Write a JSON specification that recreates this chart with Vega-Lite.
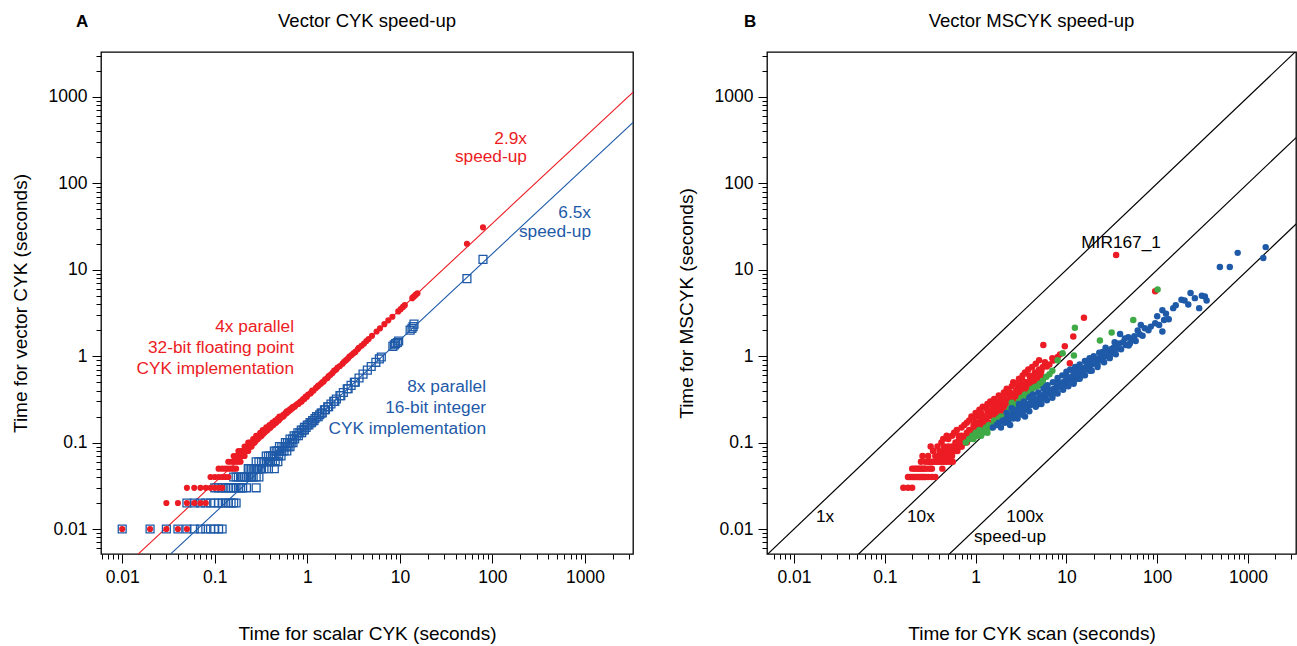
{
  "$schema": "https://vega.github.io/schema/vega-lite/v6.json",
  "background": "white",
  "padding": {"left": 10, "top": 10, "right": 0, "bottom": 4},
  "bounds": "flush",
  "spacing": 134,
  "config": {
    "font": "Liberation Sans",
    "view": {"stroke": "black", "strokeWidth": 1.3},
    "axis": {"domain": false, "grid": false, "tickColor": "black", "tickWidth": 1, "labelColor": "black", "labelFontSize": 17.5, "titleFontSize": 19, "titleFontWeight": "normal", "titleColor": "black", "labelOverlap": false, "labelFlush": false, "labelBound": false, "labelPadding": 5},
    "title": {"fontSize": 18.5, "fontWeight": "normal", "anchor": "middle", "color": "black", "offset": -17}
  },
  "datasets": {
    "aLines": [{"g":"f","x":0.001,"y":0.000345},{"g":"f","x":10000,"y":3448},{"g":"i","x":0.001,"y":0.000154},{"g":"i","x":10000,"y":1538}],
    "aText": [{"g":"f","t":"2.9x","x":236,"y":325},{"g":"f","t":"speed-up","x":236,"y":201},{"g":"i","t":"6.5x","x":1161,"y":45.2},{"g":"i","t":"speed-up","x":1161,"y":27.2},{"g":"f","t":"4x parallel","x":0.718,"y":2.166},{"g":"f","t":"32-bit floating point","x":0.718,"y":1.238},{"g":"f","t":"CYK implementation","x":0.718,"y":0.707},{"g":"i","t":"8x parallel","x":85.2,"y":0.438},{"g":"i","t":"16-bit integer","x":85.2,"y":0.25},{"g":"i","t":"CYK implementation","x":85.2,"y":0.143}],
    "aLabel": [{"t":"A","x":0.00368,"y":7345}],
    "bLabel": [{"t":"B","x":0.00328,"y":7345}],
    "aRed": [
      {"x":0.01,"y":0.01},{"x":0.02,"y":0.01},{"x":0.03,"y":0.01},{"x":0.04,"y":0.01},{"x":0.05,"y":0.01},
      {"x":0.03,"y":0.02},{"x":0.04,"y":0.02},{"x":0.05,"y":0.02},{"x":0.06,"y":0.02},{"x":0.07,"y":0.02},{"x":0.08,"y":0.02},
      {"x":0.05,"y":0.03},{"x":0.06,"y":0.03},{"x":0.07,"y":0.03},{"x":0.08,"y":0.03},{"x":0.09,"y":0.03},{"x":0.1,"y":0.03},{"x":0.11,"y":0.03},{"x":0.12,"y":0.03},
      {"x":0.09,"y":0.04},{"x":0.1,"y":0.04},{"x":0.11,"y":0.04},{"x":0.12,"y":0.04},{"x":0.13,"y":0.04},{"x":0.14,"y":0.04},
      {"x":0.11,"y":0.05},{"x":0.12,"y":0.05},{"x":0.13,"y":0.05},{"x":0.14,"y":0.05},{"x":0.15,"y":0.05},{"x":0.16,"y":0.05},{"x":0.17,"y":0.05},
      {"x":0.14,"y":0.06},{"x":0.15,"y":0.06},{"x":0.16,"y":0.06},{"x":0.17,"y":0.06},{"x":0.18,"y":0.06},{"x":0.19,"y":0.06},
      {"x":0.16,"y":0.07},{"x":0.17,"y":0.07},{"x":0.18,"y":0.07},{"x":0.19,"y":0.07},{"x":0.2,"y":0.07},{"x":0.21,"y":0.07},
      {"x":0.18,"y":0.08},{"x":0.19,"y":0.08},{"x":0.2,"y":0.08},{"x":0.21,"y":0.08},{"x":0.22,"y":0.08},{"x":0.23,"y":0.08},
      {"x":0.21,"y":0.09},{"x":0.22,"y":0.09},{"x":0.23,"y":0.09},{"x":0.24,"y":0.09},{"x":0.25,"y":0.09},
      {"x":0.23,"y":0.1},{"x":0.24,"y":0.1},{"x":0.25,"y":0.1},{"x":0.26,"y":0.1},{"x":0.27,"y":0.1},
      {"x":0.26,"y":0.11},{"x":0.27,"y":0.11},{"x":0.28,"y":0.11},{"x":0.29,"y":0.11},
      {"x":0.28,"y":0.12},{"x":0.29,"y":0.12},{"x":0.3,"y":0.12},{"x":0.31,"y":0.12},{"x":0.32,"y":0.12},
      {"x":0.31,"y":0.13},{"x":0.32,"y":0.13},{"x":0.33,"y":0.13},{"x":0.34,"y":0.13},
      {"x":0.33,"y":0.14},{"x":0.35,"y":0.14},{"x":0.36,"y":0.14},{"x":0.37,"y":0.14},
      {"x":0.36,"y":0.15},{"x":0.38,"y":0.15},{"x":0.4,"y":0.15},
      {"x":0.39,"y":0.16},{"x":0.41,"y":0.16},{"x":0.43,"y":0.16},
      {"x":0.42,"y":0.17},{"x":0.44,"y":0.17},{"x":0.46,"y":0.17},
      {"x":0.45,"y":0.18},{"x":0.47,"y":0.18},{"x":0.49,"y":0.18},
      {"x":0.48,"y":0.19},{"x":0.51,"y":0.19},
      {"x":0.5,"y":0.2},{"x":0.53,"y":0.2},{"x":0.55,"y":0.2},
      {"x":0.55,"y":0.21},{"x":0.57,"y":0.21},{"x":0.58,"y":0.22},{"x":0.6,"y":0.22},
      {"x":0.6,"y":0.23},{"x":0.63,"y":0.23},{"x":0.64,"y":0.24},{"x":0.66,"y":0.24},
      {"x":0.67,"y":0.25},{"x":0.69,"y":0.25},{"x":0.7,"y":0.26},{"x":0.73,"y":0.26},
      {"x":0.75,"y":0.27},{"x":0.78,"y":0.28},{"x":0.8,"y":0.28},{"x":0.82,"y":0.29},{"x":0.85,"y":0.3},{"x":0.87,"y":0.3},
      {"x":0.9,"y":0.32},{"x":0.93,"y":0.32},{"x":0.96,"y":0.34},{"x":0.99,"y":0.34},
      {"x":1.02,"y":0.36},{"x":1.08,"y":0.37},{"x":1.1,"y":0.38},{"x":1.13,"y":0.4},{"x":1.17,"y":0.4},
      {"x":1.24,"y":0.43},{"x":1.3,"y":0.45},{"x":1.33,"y":0.46},{"x":1.4,"y":0.48},{"x":1.45,"y":0.5},{"x":1.5,"y":0.51},
      {"x":1.56,"y":0.54},{"x":1.65,"y":0.56},{"x":1.7,"y":0.59},{"x":1.78,"y":0.61},{"x":1.87,"y":0.64},
      {"x":1.95,"y":0.68},{"x":2.05,"y":0.7},{"x":2.12,"y":0.74},{"x":2.25,"y":0.77},{"x":2.4,"y":0.82},{"x":2.5,"y":0.86},
      {"x":2.62,"y":0.9},{"x":2.75,"y":0.94},{"x":2.85,"y":0.99},{"x":3.0,"y":1.03},{"x":3.15,"y":1.08},
      {"x":3.3,"y":1.12},{"x":3.5,"y":1.2},{"x":3.6,"y":1.25},{"x":3.85,"y":1.32},{"x":4.1,"y":1.4},
      {"x":4.35,"y":1.5},{"x":4.6,"y":1.58},{"x":5.0,"y":1.72},{"x":5.6,"y":1.93},{"x":6.1,"y":2.1},{"x":6.8,"y":2.35},
      {"x":7.5,"y":2.6},{"x":8.3,"y":2.86},{"x":9.6,"y":3.3},{"x":10.2,"y":3.5},{"x":10.8,"y":3.72},{"x":11.3,"y":3.9},
      {"x":13.6,"y":4.7},{"x":14.0,"y":4.85},{"x":14.6,"y":5.05},{"x":15.0,"y":5.2},{"x":15.5,"y":5.35},
      {"x":53,"y":20},{"x":79,"y":31}
    ],
    "aBlue": [
      {"x":0.01,"y":0.01},{"x":0.02,"y":0.01},{"x":0.03,"y":0.01},{"x":0.04,"y":0.01},{"x":0.05,"y":0.01},{"x":0.06,"y":0.01},{"x":0.07,"y":0.01},{"x":0.08,"y":0.01},{"x":0.09,"y":0.01},{"x":0.1,"y":0.01},{"x":0.11,"y":0.01},{"x":0.12,"y":0.01},
      {"x":0.05,"y":0.02},{"x":0.06,"y":0.02},{"x":0.07,"y":0.02},{"x":0.08,"y":0.02},{"x":0.09,"y":0.02},{"x":0.1,"y":0.02},{"x":0.11,"y":0.02},{"x":0.12,"y":0.02},{"x":0.13,"y":0.02},{"x":0.14,"y":0.02},{"x":0.15,"y":0.02},{"x":0.16,"y":0.02},{"x":0.17,"y":0.02},
      {"x":0.1,"y":0.03},{"x":0.11,"y":0.03},{"x":0.12,"y":0.03},{"x":0.13,"y":0.03},{"x":0.14,"y":0.03},{"x":0.15,"y":0.03},{"x":0.16,"y":0.03},{"x":0.17,"y":0.03},{"x":0.18,"y":0.03},{"x":0.19,"y":0.03},{"x":0.2,"y":0.03},{"x":0.22,"y":0.03},{"x":0.28,"y":0.03},
      {"x":0.16,"y":0.04},{"x":0.17,"y":0.04},{"x":0.18,"y":0.04},{"x":0.19,"y":0.04},{"x":0.2,"y":0.04},{"x":0.21,"y":0.04},{"x":0.22,"y":0.04},{"x":0.23,"y":0.04},{"x":0.24,"y":0.04},{"x":0.25,"y":0.04},{"x":0.26,"y":0.04},{"x":0.28,"y":0.04},{"x":0.3,"y":0.04},
      {"x":0.23,"y":0.05},{"x":0.24,"y":0.05},{"x":0.25,"y":0.05},{"x":0.26,"y":0.05},{"x":0.27,"y":0.05},{"x":0.28,"y":0.05},{"x":0.29,"y":0.05},{"x":0.3,"y":0.05},{"x":0.32,"y":0.05},{"x":0.34,"y":0.05},{"x":0.38,"y":0.05},{"x":0.44,"y":0.05},
      {"x":0.28,"y":0.06},{"x":0.3,"y":0.06},{"x":0.32,"y":0.06},{"x":0.34,"y":0.06},{"x":0.36,"y":0.06},{"x":0.38,"y":0.06},{"x":0.4,"y":0.06},{"x":0.42,"y":0.06},{"x":0.45,"y":0.06},{"x":0.48,"y":0.06},
      {"x":0.36,"y":0.07},{"x":0.38,"y":0.07},{"x":0.4,"y":0.07},{"x":0.42,"y":0.07},{"x":0.44,"y":0.07},{"x":0.46,"y":0.07},{"x":0.49,"y":0.07},{"x":0.52,"y":0.07},
      {"x":0.44,"y":0.08},{"x":0.46,"y":0.08},{"x":0.48,"y":0.08},{"x":0.5,"y":0.08},{"x":0.53,"y":0.08},{"x":0.56,"y":0.08},{"x":0.6,"y":0.08},
      {"x":0.5,"y":0.09},{"x":0.53,"y":0.09},{"x":0.56,"y":0.09},{"x":0.59,"y":0.09},{"x":0.62,"y":0.09},{"x":0.65,"y":0.09},
      {"x":0.58,"y":0.1},{"x":0.61,"y":0.1},{"x":0.64,"y":0.1},{"x":0.67,"y":0.1},{"x":0.7,"y":0.1},
      {"x":0.65,"y":0.11},{"x":0.69,"y":0.11},{"x":0.73,"y":0.11},
      {"x":0.72,"y":0.12},{"x":0.76,"y":0.12},{"x":0.8,"y":0.12},
      {"x":0.79,"y":0.13},{"x":0.83,"y":0.13},{"x":0.87,"y":0.13},
      {"x":0.86,"y":0.14},{"x":0.9,"y":0.14},{"x":0.93,"y":0.14},
      {"x":0.93,"y":0.15},{"x":0.97,"y":0.15},{"x":1.0,"y":0.16},{"x":1.04,"y":0.16},
      {"x":1.07,"y":0.17},{"x":1.11,"y":0.17},{"x":1.14,"y":0.18},{"x":1.18,"y":0.18},{"x":1.21,"y":0.19},
      {"x":1.26,"y":0.2},{"x":1.31,"y":0.2},{"x":1.36,"y":0.21},{"x":1.41,"y":0.22},{"x":1.45,"y":0.22},
      {"x":1.53,"y":0.24},{"x":1.57,"y":0.24},{"x":1.66,"y":0.26},{"x":1.7,"y":0.26},{"x":1.8,"y":0.28},
      {"x":1.93,"y":0.3},{"x":1.98,"y":0.3},{"x":2.06,"y":0.32},{"x":2.25,"y":0.35},{"x":2.3,"y":0.35},
      {"x":2.45,"y":0.38},{"x":2.7,"y":0.42},{"x":2.76,"y":0.42},{"x":2.97,"y":0.46},{"x":3.22,"y":0.5},{"x":3.3,"y":0.5},
      {"x":3.62,"y":0.56},{"x":4.0,"y":0.62},{"x":4.45,"y":0.69},{"x":4.9,"y":0.76},{"x":5.5,"y":0.85},{"x":6.0,"y":0.93},{"x":6.3,"y":0.98},
      {"x":8.4,"y":1.3},{"x":8.7,"y":1.35},{"x":9.0,"y":1.4},{"x":9.4,"y":1.44},{"x":9.7,"y":1.5},
      {"x":12.9,"y":2.0},{"x":13.5,"y":2.1},{"x":13.9,"y":2.2},{"x":14.2,"y":2.35},
      {"x":53,"y":7.9},{"x":79,"y":13.2}
    ],
    "bLines": [{"g":"1","x":0.001,"y":0.001},{"g":"1","x":10000,"y":10000},{"g":"10","x":0.001,"y":0.0001},{"g":"10","x":10000,"y":1000},{"g":"100","x":0.001,"y":0.00001},{"g":"100","x":10000,"y":100}],
    "bText": [{"t":"1x","x":0.022,"y":0.0137},{"t":"10x","x":0.25,"y":0.0137},{"t":"100x","x":3.5,"y":0.0137},{"t":"speed-up","x":2.39,"y":0.00804},{"t":"MIR167_1","x":40,"y":20.3}],
    "bRed": [
      {"x":0.16,"y":0.03},{"x":0.18,"y":0.03},{"x":0.2,"y":0.03},
      {"x":0.18,"y":0.04},{"x":0.19,"y":0.04},{"x":0.2,"y":0.04},{"x":0.21,"y":0.04},{"x":0.22,"y":0.04},{"x":0.23,"y":0.04},{"x":0.24,"y":0.04},{"x":0.25,"y":0.04},{"x":0.26,"y":0.04},{"x":0.27,"y":0.04},{"x":0.28,"y":0.04},{"x":0.3,"y":0.04},{"x":0.33,"y":0.04},{"x":0.36,"y":0.04},
      {"x":0.2,"y":0.05},{"x":0.21,"y":0.05},{"x":0.22,"y":0.05},{"x":0.23,"y":0.05},{"x":0.24,"y":0.05},{"x":0.25,"y":0.05},{"x":0.26,"y":0.05},{"x":0.27,"y":0.05},{"x":0.28,"y":0.05},{"x":0.3,"y":0.05},{"x":0.32,"y":0.05},{"x":0.33,"y":0.05},{"x":0.43,"y":0.05},
      {"x":0.28,"y":0.06},{"x":0.3,"y":0.06},{"x":0.31,"y":0.06},{"x":0.32,"y":0.06},{"x":0.34,"y":0.06},{"x":0.36,"y":0.06},{"x":0.38,"y":0.06},{"x":0.4,"y":0.06},{"x":0.42,"y":0.06},{"x":0.45,"y":0.06},{"x":0.48,"y":0.06},{"x":0.52,"y":0.06},{"x":0.56,"y":0.06},
      {"x":0.36,"y":0.07},{"x":0.4,"y":0.07},{"x":0.43,"y":0.07},{"x":0.46,"y":0.07},{"x":0.48,"y":0.07},{"x":0.5,"y":0.07},{"x":0.52,"y":0.07},{"x":0.55,"y":0.07},
      {"x":0.45,"y":0.08},{"x":0.48,"y":0.08},{"x":0.5,"y":0.08},{"x":0.53,"y":0.08},{"x":0.56,"y":0.08},{"x":0.6,"y":0.08},{"x":0.63,"y":0.08},
      {"x":0.5,"y":0.09},{"x":0.55,"y":0.09},{"x":0.58,"y":0.09},{"x":0.62,"y":0.09},{"x":0.66,"y":0.09},{"x":0.7,"y":0.09},
      {"x":0.6,"y":0.1},{"x":0.63,"y":0.1},{"x":0.67,"y":0.1},{"x":0.72,"y":0.1},{"x":0.76,"y":0.1},{"x":0.8,"y":0.1},
      {"x":0.66,"y":0.11},{"x":0.72,"y":0.11},{"x":0.77,"y":0.11},{"x":0.82,"y":0.11},{"x":0.86,"y":0.11},
      {"x":0.7,"y":0.12},{"x":0.78,"y":0.12},{"x":0.85,"y":0.12},{"x":0.9,"y":0.12},{"x":0.95,"y":0.12},
      {"x":0.8,"y":0.13},{"x":0.88,"y":0.13},{"x":0.95,"y":0.13},{"x":1.0,"y":0.13},
      {"x":0.85,"y":0.14},{"x":0.92,"y":0.14},{"x":1.0,"y":0.14},{"x":1.08,"y":0.14},{"x":1.15,"y":0.14},
      {"x":1.0,"y":0.15},{"x":1.1,"y":0.16},{"x":1.2,"y":0.15},{"x":0.95,"y":0.16},{"x":1.05,"y":0.17},{"x":1.15,"y":0.18},{"x":1.25,"y":0.17},{"x":1.3,"y":0.19},{"x":1.2,"y":0.2},{"x":1.4,"y":0.2},
      {"x":1.35,"y":0.22},{"x":1.5,"y":0.21},{"x":1.45,"y":0.23},{"x":1.6,"y":0.22},{"x":1.55,"y":0.25},{"x":1.7,"y":0.24},{"x":1.8,"y":0.26},{"x":1.65,"y":0.27},{"x":1.9,"y":0.25},{"x":2.0,"y":0.28},
      {"x":1.85,"y":0.3},{"x":2.1,"y":0.27},{"x":2.2,"y":0.3},{"x":2.0,"y":0.33},{"x":2.3,"y":0.32},{"x":2.2,"y":0.37},{"x":2.5,"y":0.34},{"x":2.4,"y":0.38},{"x":2.7,"y":0.36},{"x":2.95,"y":0.44},
      {"x":2.8,"y":0.4},{"x":3.0,"y":0.38},{"x":3.2,"y":0.42},{"x":3.1,"y":0.47},{"x":3.4,"y":0.45},{"x":3.6,"y":0.5},{"x":3.3,"y":0.52},{"x":3.8,"y":0.48},{"x":4.0,"y":0.55},{"x":3.9,"y":0.6},
      {"x":4.3,"y":0.58},{"x":4.5,"y":0.65},{"x":4.8,"y":0.62},{"x":5.0,"y":0.7},{"x":5.3,"y":0.68},{"x":5.5,"y":0.75},{"x":6.1,"y":0.76},{"x":5.8,"y":0.85},{"x":6.5,"y":0.8},{"x":7.2,"y":0.89},
      {"x":7.0,"y":0.95},{"x":8.0,"y":0.98},{"x":8.5,"y":1.05},{"x":9.6,"y":1.3},{"x":10.9,"y":0.83},{"x":11.9,"y":1.69},{"x":15.6,"y":2.78},{"x":5.57,"y":1.35},{"x":95,"y":5.65},{"x":35.3,"y":14.8},
      {"x":0.25,"y":0.06},{"x":0.26,"y":0.07},{"x":0.3,"y":0.07},{"x":0.32,"y":0.09},{"x":0.34,"y":0.08},{"x":0.38,"y":0.09},{"x":0.4,"y":0.08},{"x":0.42,"y":0.1},{"x":0.44,"y":0.11},{"x":0.45,"y":0.09},
      {"x":0.48,"y":0.12},{"x":0.5,"y":0.11},{"x":0.55,"y":0.12},{"x":0.58,"y":0.13},{"x":0.62,"y":0.14},{"x":0.65,"y":0.12},{"x":0.7,"y":0.15},{"x":0.7,"y":0.09},{"x":0.75,"y":0.16},{"x":0.75,"y":0.1},
      {"x":0.8,"y":0.17},{"x":0.8,"y":0.12},{"x":0.85,"y":0.18},{"x":0.9,"y":0.2},{"x":0.9,"y":0.13},{"x":0.95,"y":0.19},{"x":0.95,"y":0.15},{"x":1.0,"y":0.22},{"x":1.0,"y":0.17},{"x":1.05,"y":0.2},
      {"x":1.1,"y":0.24},{"x":1.1,"y":0.13},{"x":1.15,"y":0.22},{"x":1.2,"y":0.26},{"x":1.25,"y":0.15},{"x":1.3,"y":0.25},{"x":1.35,"y":0.28},{"x":1.4,"y":0.17},{"x":1.45,"y":0.3},{"x":1.5,"y":0.27},
      {"x":1.6,"y":0.32},{"x":1.6,"y":0.19},{"x":1.7,"y":0.3},{"x":1.75,"y":0.21},{"x":1.8,"y":0.35},{"x":1.9,"y":0.33},{"x":1.9,"y":0.23},{"x":2.05,"y":0.38},{"x":2.1,"y":0.25},{"x":2.2,"y":0.42},
      {"x":2.3,"y":0.4},{"x":2.3,"y":0.28},{"x":2.5,"y":0.45},{"x":2.5,"y":0.3},{"x":2.6,"y":0.5},{"x":2.7,"y":0.32},{"x":2.8,"y":0.48},{"x":2.9,"y":0.34},{"x":3.0,"y":0.55},{"x":3.1,"y":0.36},
      {"x":3.3,"y":0.6},{"x":3.4,"y":0.39},{"x":3.5,"y":0.65},{"x":3.7,"y":0.42},{"x":3.8,"y":0.7},{"x":4.0,"y":0.45},{"x":4.2,"y":0.75},{"x":4.4,"y":0.5},{"x":4.6,"y":0.82},{"x":4.8,"y":0.55},
      {"x":5.0,"y":0.9},{"x":5.3,"y":0.6}
    ],
    "bGreen": [
      {"x":0.78,"y":0.1},{"x":0.85,"y":0.11},{"x":0.92,"y":0.12},{"x":0.95,"y":0.11},{"x":1.0,"y":0.13},{"x":1.05,"y":0.12},{"x":1.1,"y":0.14},{"x":1.2,"y":0.13},{"x":1.3,"y":0.15},{"x":1.4,"y":0.16},
      {"x":1.5,"y":0.15},{"x":1.6,"y":0.18},{"x":1.7,"y":0.17},{"x":1.9,"y":0.2},{"x":2.0,"y":0.19},{"x":2.2,"y":0.22},{"x":2.4,"y":0.25},{"x":2.5,"y":0.29},{"x":2.7,"y":0.27},{"x":3.0,"y":0.3},
      {"x":3.2,"y":0.33},{"x":3.5,"y":0.36},{"x":3.8,"y":0.35},{"x":4.2,"y":0.42},{"x":4.5,"y":0.44},{"x":5.1,"y":0.48},{"x":5.3,"y":0.46},{"x":6.0,"y":0.58},{"x":7.0,"y":0.68},{"x":8.0,"y":0.9},
      {"x":9.1,"y":1.08},{"x":12.1,"y":1.02},{"x":12.4,"y":2.13},{"x":23.4,"y":1.52},{"x":31.5,"y":1.88},{"x":54.5,"y":2.63},{"x":101,"y":5.9},
      {"x":1.15,"y":0.12},{"x":1.25,"y":0.14},{"x":1.35,"y":0.13},{"x":1.6,"y":0.16},{"x":1.8,"y":0.19},{"x":2.1,"y":0.2},{"x":2.3,"y":0.23},{"x":2.6,"y":0.26},{"x":2.9,"y":0.28},{"x":3.4,"y":0.32},
      {"x":4.0,"y":0.38},{"x":4.8,"y":0.45},{"x":5.5,"y":0.52},{"x":6.5,"y":0.62}
    ],
    "bBlue": [
      {"x":1.55,"y":0.15},{"x":1.7,"y":0.16},{"x":1.8,"y":0.17},{"x":1.9,"y":0.15},{"x":2.0,"y":0.18},{"x":2.1,"y":0.17},{"x":2.2,"y":0.19},{"x":2.3,"y":0.18},{"x":2.4,"y":0.2},{"x":2.5,"y":0.21},
      {"x":2.6,"y":0.19},{"x":2.7,"y":0.22},{"x":2.8,"y":0.21},{"x":2.9,"y":0.23},{"x":3.0,"y":0.22},{"x":3.1,"y":0.24},{"x":3.2,"y":0.23},{"x":3.3,"y":0.25},{"x":3.4,"y":0.26},{"x":3.5,"y":0.24},
      {"x":3.6,"y":0.27},{"x":3.7,"y":0.26},{"x":3.8,"y":0.28},{"x":4.0,"y":0.27},{"x":4.1,"y":0.29},{"x":4.2,"y":0.3},{"x":4.4,"y":0.28},{"x":4.5,"y":0.31},{"x":4.7,"y":0.3},{"x":4.8,"y":0.32},
      {"x":5.0,"y":0.33},{"x":5.2,"y":0.31},{"x":5.4,"y":0.35},{"x":5.5,"y":0.33},{"x":5.7,"y":0.36},{"x":5.9,"y":0.34},{"x":6.0,"y":0.38},{"x":6.3,"y":0.37},{"x":6.5,"y":0.4},{"x":6.8,"y":0.38},
      {"x":7.0,"y":0.41},{"x":7.3,"y":0.42},{"x":7.6,"y":0.4},{"x":7.9,"y":0.45},{"x":8.2,"y":0.44},{"x":8.5,"y":0.47},{"x":8.8,"y":0.46},{"x":9.2,"y":0.5},{"x":9.5,"y":0.48},{"x":9.8,"y":0.52},
      {"x":10.2,"y":0.5},{"x":10.5,"y":0.55},{"x":11,"y":0.53},{"x":11.5,"y":0.58},{"x":12,"y":0.56},{"x":12.5,"y":0.6},{"x":13,"y":0.62},{"x":13.4,"y":0.55},{"x":14,"y":0.66},{"x":14.5,"y":0.63},
      {"x":15,"y":0.7},{"x":15.5,"y":0.68},{"x":16,"y":0.74},{"x":16.5,"y":0.71},{"x":17,"y":0.78},{"x":18,"y":0.76},{"x":18.5,"y":0.82},{"x":19,"y":0.8},{"x":20,"y":0.86},{"x":20.5,"y":0.9},
      {"x":21,"y":0.84},{"x":22,"y":0.93},{"x":23,"y":0.9},{"x":24,"y":0.98},{"x":25,"y":0.95},{"x":26,"y":1.05},{"x":27,"y":1.0},{"x":28,"y":1.1},{"x":29,"y":1.08},{"x":30,"y":1.15},
      {"x":31,"y":1.2},{"x":32,"y":1.12},{"x":33,"y":1.25},{"x":35,"y":1.3},{"x":36,"y":1.22},{"x":38,"y":1.4},{"x":39,"y":1.81},{"x":42,"y":1.45},{"x":45,"y":1.35},{"x":48,"y":1.66},
      {"x":48.5,"y":1.33},{"x":52,"y":1.55},{"x":56,"y":1.7},{"x":61,"y":1.98},{"x":64,"y":1.8},{"x":69,"y":1.73},{"x":73,"y":2.1},{"x":80,"y":2.0},{"x":95,"y":2.4},{"x":114,"y":3.4},
      {"x":114,"y":1.93},{"x":119,"y":2.63},{"x":134,"y":2.68},{"x":150,"y":3.6},{"x":185,"y":4.5},{"x":220,"y":3.97},{"x":233,"y":5.4},{"x":290,"y":3.6},{"x":335,"y":4.9},{"x":350,"y":4.4},
      {"x":490,"y":10.8},{"x":630,"y":10.8},{"x":770,"y":15.7},{"x":1474,"y":13.7},{"x":1566,"y":18.3},
      {"x":3.5,"y":0.2},{"x":5,"y":0.28},{"x":7,"y":0.35},{"x":9,"y":0.42},{"x":12,"y":0.5},{"x":15,"y":0.6},{"x":18,"y":0.68},{"x":22,"y":0.8},{"x":6,"y":0.45},{"x":8,"y":0.52},
      {"x":10,"y":0.6},{"x":4,"y":0.34},{"x":13,"y":0.72},{"x":17,"y":0.88},{"x":25,"y":1.12},{"x":30,"y":1.0},{"x":34,"y":1.45},{"x":27,"y":1.25},{"x":12,"y":0.65},{"x":3,"y":0.28},{"x":2.5,"y":0.25},
      {"x":2.2,"y":0.22},{"x":2.6,"y":0.24},{"x":3.0,"y":0.26},{"x":3.4,"y":0.3},{"x":3.9,"y":0.33},{"x":4.3,"y":0.36},{"x":4.9,"y":0.38},{"x":5.6,"y":0.42},{"x":6.2,"y":0.46},{"x":7.1,"y":0.5},
      {"x":8.0,"y":0.56},{"x":9.0,"y":0.6},{"x":10,"y":0.66},{"x":11,"y":0.7},{"x":12.5,"y":0.75},{"x":14,"y":0.8},{"x":16,"y":0.88},{"x":18,"y":0.95},{"x":20,"y":1.0},{"x":23,"y":1.1},
      {"x":2.4,"y":0.16},{"x":2.9,"y":0.19},{"x":3.3,"y":0.21},{"x":3.9,"y":0.23},{"x":4.6,"y":0.26},{"x":5.3,"y":0.28},{"x":6.1,"y":0.31},{"x":7,"y":0.33},{"x":8,"y":0.37},{"x":9.2,"y":0.41},
      {"x":10.5,"y":0.45},{"x":12,"y":0.48},{"x":14,"y":0.55},{"x":16,"y":0.6},{"x":19,"y":0.68},{"x":22,"y":0.75},{"x":26,"y":0.85},{"x":30,"y":0.95},{"x":35,"y":1.05},{"x":40,"y":1.2},
      {"x":44,"y":1.6},{"x":50,"y":1.4},{"x":58,"y":1.5},{"x":66,"y":2.3},{"x":85,"y":2.2},{"x":100,"y":2.9},{"x":105,"y":2.3},{"x":125,"y":3.1},{"x":160,"y":3.9},{"x":200,"y":4.4},
      {"x":260,"y":4.7},{"x":310,"y":5.0}
    ]
  },
  "hconcat": [
    {
      "width": 532,
      "height": 502,
      "title": {"text": "Vector CYK speed-up"},
      "encoding": {
        "x": {"field": "x", "type": "quantitative", "scale": {"type": "log", "domain": [0.0059, 3300], "nice": false, "zero": false},
          "axis": {"title": "Time for scalar CYK (seconds)", "titlePadding": 39,
            "values": [0.006,0.007,0.008,0.009,0.01,0.02,0.03,0.04,0.05,0.06,0.07,0.08,0.09,0.1,0.2,0.3,0.4,0.5,0.6,0.7,0.8,0.9,1,2,3,4,5,6,7,8,9,10,20,30,40,50,60,70,80,90,100,200,300,400,500,600,700,800,900,1000,2000,3000],
            "labelExpr": "indexof([0.01,0.1,1,10,100,1000], datum.value) >= 0 ? '' + datum.value : ''",
            "tickSize": {"condition": {"test": "indexof([0.01,0.1,1,10,100,1000], datum.value) >= 0", "value": 9}, "value": 5}}},
        "y": {"field": "y", "type": "quantitative", "scale": {"type": "log", "domain": [0.00514, 3315], "nice": false, "zero": false},
          "axis": {"title": "Time for vector CYK (seconds)", "titlePadding": 18,
            "values": [0.006,0.007,0.008,0.009,0.01,0.02,0.03,0.04,0.05,0.06,0.07,0.08,0.09,0.1,0.2,0.3,0.4,0.5,0.6,0.7,0.8,0.9,1,2,3,4,5,6,7,8,9,10,20,30,40,50,60,70,80,90,100,200,300,400,500,600,700,800,900,1000,2000,3000],
            "labelExpr": "indexof([0.01,0.1,1,10,100,1000], datum.value) >= 0 ? '' + datum.value : ''",
            "tickSize": {"condition": {"test": "indexof([0.01,0.1,1,10,100,1000], datum.value) >= 0", "value": 9}, "value": 5}}}
      },
      "layer": [
        {"data": {"name": "aLines"}, "mark": {"type": "line", "clip": true, "strokeWidth": 1.1},
         "encoding": {"color": {"field": "g", "type": "nominal", "scale": {"domain": ["f", "i"], "range": ["#EC1C24", "#1E5AA8"]}, "legend": null}}},
        {"data": {"name": "aBlue"}, "mark": {"type": "point", "shape": "square", "filled": false, "size": 62, "strokeWidth": 1.3, "color": "#1E5AA8", "opacity": 1}},
        {"data": {"name": "aRed"}, "mark": {"type": "circle", "size": 38, "color": "#EC1C24", "opacity": 1}},
        {"data": {"name": "aText"}, "mark": {"type": "text", "align": "right", "baseline": "middle", "fontSize": 17.3},
         "encoding": {"text": {"field": "t"}, "color": {"field": "g", "type": "nominal", "legend": null}}},
        {"data": {"name": "aLabel"}, "mark": {"type": "text", "align": "center", "baseline": "middle", "fontSize": 17, "fontWeight": "bold", "color": "black"},
         "encoding": {"text": {"field": "t"}}}
      ]
    },
    {
      "width": 529,
      "height": 502,
      "title": {"text": "Vector MSCYK speed-up"},
      "encoding": {
        "x": {"field": "x", "type": "quantitative", "scale": {"type": "log", "domain": [0.00504, 3378], "nice": false, "zero": false},
          "axis": {"title": "Time for CYK scan (seconds)", "titlePadding": 39,
            "values": [0.006,0.007,0.008,0.009,0.01,0.02,0.03,0.04,0.05,0.06,0.07,0.08,0.09,0.1,0.2,0.3,0.4,0.5,0.6,0.7,0.8,0.9,1,2,3,4,5,6,7,8,9,10,20,30,40,50,60,70,80,90,100,200,300,400,500,600,700,800,900,1000,2000,3000],
            "labelExpr": "indexof([0.01,0.1,1,10,100,1000], datum.value) >= 0 ? '' + datum.value : ''",
            "tickSize": {"condition": {"test": "indexof([0.01,0.1,1,10,100,1000], datum.value) >= 0", "value": 9}, "value": 5}}},
        "y": {"field": "y", "type": "quantitative", "scale": {"type": "log", "domain": [0.00514, 3315], "nice": false, "zero": false},
          "axis": {"title": "Time for MSCYK (seconds)", "titlePadding": 18,
            "values": [0.006,0.007,0.008,0.009,0.01,0.02,0.03,0.04,0.05,0.06,0.07,0.08,0.09,0.1,0.2,0.3,0.4,0.5,0.6,0.7,0.8,0.9,1,2,3,4,5,6,7,8,9,10,20,30,40,50,60,70,80,90,100,200,300,400,500,600,700,800,900,1000,2000,3000],
            "labelExpr": "indexof([0.01,0.1,1,10,100,1000], datum.value) >= 0 ? '' + datum.value : ''",
            "tickSize": {"condition": {"test": "indexof([0.01,0.1,1,10,100,1000], datum.value) >= 0", "value": 9}, "value": 5}}}
      },
      "layer": [
        {"data": {"name": "bLines"}, "mark": {"type": "line", "clip": true, "strokeWidth": 1.2, "color": "black"},
         "encoding": {"detail": {"field": "g", "type": "nominal"}}},
        {"data": {"name": "bRed"}, "mark": {"type": "circle", "size": 42, "color": "#EC1C24", "opacity": 1}},
        {"data": {"name": "bGreen"}, "mark": {"type": "circle", "size": 42, "color": "#3FAA46", "opacity": 1}},
        {"data": {"name": "bBlue"}, "mark": {"type": "circle", "size": 42, "color": "#1E5AA8", "opacity": 1}},
        {"data": {"name": "bText"}, "mark": {"type": "text", "align": "center", "baseline": "middle", "fontSize": 17.3, "color": "black"},
         "encoding": {"text": {"field": "t"}}},
        {"data": {"name": "bLabel"}, "mark": {"type": "text", "align": "center", "baseline": "middle", "fontSize": 17, "fontWeight": "bold", "color": "black"},
         "encoding": {"text": {"field": "t"}}}
      ]
    }
  ]
}
